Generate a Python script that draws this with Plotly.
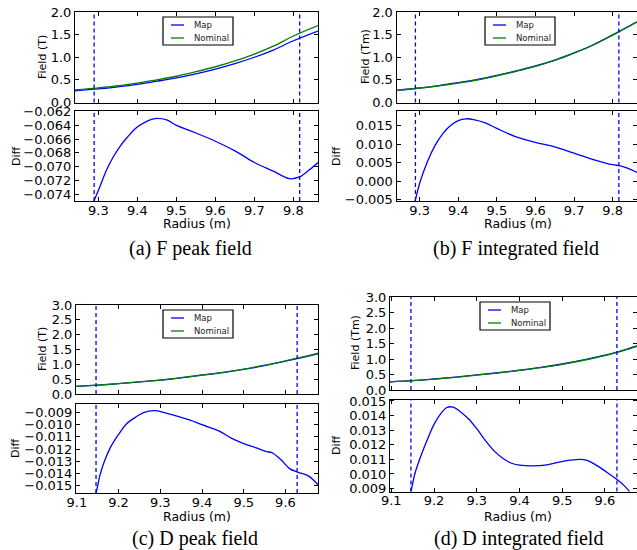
import plotly.graph_objects as go

# ---------------- data ----------------
# (a) F peak field
a_r = [9.24, 9.30, 9.35, 9.40, 9.45, 9.50, 9.55, 9.60, 9.65, 9.70, 9.75, 9.80, 9.863]
a_nominal = [0.28, 0.325, 0.37, 0.43, 0.50, 0.58, 0.68, 0.79, 0.92, 1.07, 1.25, 1.47, 1.70]
a_map = [0.26, 0.30, 0.345, 0.40, 0.47, 0.545, 0.635, 0.74, 0.86, 1.00, 1.165, 1.365, 1.58]
a_diff_r = [9.26, 9.275, 9.29, 9.304, 9.32, 9.338, 9.356, 9.373, 9.398, 9.424, 9.445, 9.475,
            9.50, 9.55, 9.60, 9.65, 9.70, 9.75, 9.79, 9.815, 9.84, 9.863]
a_diff = [-0.0790, -0.0768, -0.0748, -0.0729, -0.0706, -0.0686, -0.0670, -0.0658, -0.0643,
          -0.0634, -0.0630, -0.0632, -0.0640, -0.0651, -0.0663, -0.0677, -0.0694, -0.0707,
          -0.07175, -0.0715, -0.0705, -0.0694]

# (b) F integrated field
b_r = [9.24, 9.30, 9.35, 9.40, 9.45, 9.50, 9.55, 9.60, 9.65, 9.70, 9.75, 9.80, 9.863]
b_nominal = [0.27, 0.32, 0.37, 0.43, 0.50, 0.59, 0.69, 0.80, 0.93, 1.09, 1.27, 1.49, 1.78]
b_map = [0.266, 0.32, 0.375, 0.437, 0.508, 0.598, 0.698, 0.808, 0.938, 1.098, 1.277, 1.496, 1.784]
b_diff_r = [9.26, 9.275, 9.289, 9.30, 9.32, 9.34, 9.36, 9.38, 9.40, 9.42, 9.44, 9.47, 9.50,
            9.55, 9.60, 9.65, 9.70, 9.75, 9.80, 9.82, 9.84, 9.863]
b_diff = [-0.018, -0.0112, -0.0050, -0.0005, 0.0053, 0.0097, 0.0129, 0.0151, 0.0164, 0.0169,
          0.0167, 0.0158, 0.0143, 0.0120, 0.0105, 0.0093, 0.0076, 0.0059, 0.0045, 0.0042,
          0.0035, 0.0024]

# (c) D peak field
c_r = [9.09, 9.15, 9.20, 9.25, 9.30, 9.35, 9.40, 9.45, 9.50, 9.55, 9.60, 9.65, 9.68]
c_nominal = [0.25, 0.30, 0.35, 0.41, 0.47, 0.55, 0.64, 0.73, 0.84, 0.97, 1.12, 1.28, 1.38]
c_map = [0.247, 0.297, 0.347, 0.406, 0.466, 0.545, 0.634, 0.723, 0.830, 0.958, 1.106, 1.262, 1.360]
c_diff_r = [9.12, 9.146, 9.155, 9.165, 9.18, 9.20, 9.22, 9.24, 9.26, 9.285, 9.31, 9.34, 9.37,
            9.40, 9.44, 9.47, 9.50, 9.53, 9.555, 9.568, 9.59, 9.61, 9.63, 9.655, 9.68]
c_diff = [-0.0185, -0.0156, -0.0142, -0.0131, -0.0119, -0.0108, -0.0099, -0.0094, -0.0090,
          -0.00885, -0.0090, -0.0093, -0.0096, -0.0100, -0.0105, -0.0111, -0.01155, -0.0119,
          -0.0122, -0.0123, -0.0129, -0.0136, -0.0139, -0.0142, -0.0150]

# (d) D integrated field
d_r = [9.095, 9.15, 9.20, 9.25, 9.30, 9.35, 9.40, 9.45, 9.50, 9.55, 9.60, 9.628, 9.65, 9.675]
d_nominal = [0.26, 0.30, 0.35, 0.41, 0.48, 0.55, 0.63, 0.72, 0.83, 0.96, 1.11, 1.21, 1.30, 1.41]
d_map = [0.262, 0.303, 0.355, 0.416, 0.487, 0.556, 0.637, 0.728, 0.839, 0.971, 1.122, 1.222, 1.311, 1.421]
d_diff_r = [9.13, 9.146, 9.155, 9.17, 9.185, 9.20, 9.215, 9.23, 9.245, 9.26, 9.28, 9.30, 9.32,
            9.34, 9.36, 9.38, 9.40, 9.43, 9.46, 9.49, 9.52, 9.545, 9.56, 9.585, 9.61, 9.629,
            9.645, 9.66, 9.675]
d_diff = [0.0072, 0.0088, 0.0100, 0.0113, 0.0124, 0.0134, 0.0141, 0.01455, 0.01458, 0.0143,
          0.0138, 0.0131, 0.0123, 0.0116, 0.0111, 0.01075, 0.0106, 0.01055, 0.0106, 0.0108,
          0.01095, 0.0110, 0.01092, 0.0105, 0.0100, 0.0096, 0.0092, 0.0087, 0.0081]

# dashed marker positions
ab_marks = [9.289, 9.816]
cd_marks = [9.146, 9.628]

# tick labels
ab_xticks = [9.3, 9.4, 9.5, 9.6, 9.7, 9.8]
cd_xticks = [9.1, 9.2, 9.3, 9.4, 9.5, 9.6]
ab_field_ticks = [0.0, 0.5, 1.0, 1.5, 2.0]
cd_field_ticks = [0.0, 0.5, 1.0, 1.5, 2.0, 2.5, 3.0]
a_diff_ticks = [-0.074, -0.072, -0.070, -0.068, -0.066, -0.064, -0.062]
b_diff_ticks = [-0.005, 0.000, 0.005, 0.010, 0.015]
c_diff_ticks = [-0.015, -0.014, -0.013, -0.012, -0.011, -0.010, -0.009]
d_diff_ticks = [0.009, 0.010, 0.011, 0.012, 0.013, 0.014, 0.015]

field_labels = ["Field (T)", "Field (Tm)", "Field (T)", "Field (Tm)"]
captions = ["(a) F peak field", "(b) F integrated field", "(c) D peak field", "(d) D integrated field"]
series_names = ["Map", "Nominal"]

# ---------------- layout helpers ----------------
W, H = 637, 550
def fx(p): return p / W
def fy(p): return 1 - p / H

BLUE = "#0000ff"
GREEN = "#008000"
TICKFONT = dict(family="DejaVu Sans", size=13, color="black")

panels = [
    dict(r=a_r, nom=a_nominal, mp=a_map, dr=a_diff_r, dv=a_diff, marks=ab_marks,
         xr=[9.24, 9.863], xt=ab_xticks, ft=ab_field_ticks, fr=[0, 2.0],
         dt=a_diff_ticks, drange=[-0.075, -0.0619],
         xdom=[75, 318], top=[12, 102.5], bot=[111, 201],
         ftitle=(42, 57), dtitle=(16, 156), rtitle=(197, 224), cap=(190, 248),
         leg=(163, 17)),
    dict(r=b_r, nom=b_nominal, mp=b_map, dr=b_diff_r, dv=b_diff, marks=ab_marks,
         xr=[9.24, 9.863], xt=ab_xticks, ft=ab_field_ticks, fr=[0, 2.0],
         dt=b_diff_ticks, drange=[-0.0053, 0.0190],
         xdom=[396.5, 637], top=[12, 102.5], bot=[111, 201],
         ftitle=(365, 57), dtitle=(336, 156), rtitle=(518, 224), cap=(516, 248),
         leg=(485, 17)),
    dict(r=c_r, nom=c_nominal, mp=c_map, dr=c_diff_r, dv=c_diff, marks=cd_marks,
         xr=[9.098, 9.678], xt=cd_xticks, ft=cd_field_ticks, fr=[0, 3.0],
         dt=c_diff_ticks, drange=[-0.0156, -0.0083],
         xdom=[76, 318], top=[305, 394], bot=[404, 493],
         ftitle=(42, 349), dtitle=(15, 448), rtitle=(197, 516), cap=(195, 538),
         leg=(163, 310)),
    dict(r=d_r, nom=d_nominal, mp=d_map, dr=d_diff_r, dv=d_diff, marks=cd_marks,
         xr=[9.097, 9.675], xt=cd_xticks, ft=cd_field_ticks, fr=[0, 3.0],
         dt=d_diff_ticks, drange=[0.0088, 0.0151],
         xdom=[390, 637], top=[297, 390], bot=[399.5, 491.5],
         ftitle=(355, 343), dtitle=(336, 445), rtitle=(518, 516), cap=(518, 538),
         leg=(480, 302)),
]

fig = go.Figure()
layout = dict(width=W, height=H,
              margin=dict(l=0, r=0, t=0, b=0, pad=0, autoexpand=False),
              paper_bgcolor="white", plot_bgcolor="white", showlegend=False)
shapes = []
annotations = []

def axis_common():
    return dict(showline=True, linecolor="black", linewidth=1, mirror="allticks",
                ticks="inside", ticklen=4, tickcolor="black", tickwidth=1,
                showgrid=False, zeroline=False, tickfont=TICKFONT, automargin=False)

for i, p in enumerate(panels):
    top_idx = 2 * i + 1
    bot_idx = 2 * i + 2
    xd = [fx(p["xdom"][0]), min(1.0, fx(p["xdom"][1]))]

    # axes
    for idx, ydom, is_top in [(top_idx, p["top"], True), (bot_idx, p["bot"], False)]:
        xa = axis_common()
        xa.update(domain=xd, range=p["xr"], tickvals=p["xt"], ticktext=[f"{v:.1f}" for v in p["xt"]],
                  anchor=f"y{idx}" if idx > 1 else "y", showticklabels=not is_top,
                  ticklabelstandoff=-3)
        ya = axis_common()
        ya.update(domain=[fy(ydom[1]), fy(ydom[0])], anchor=f"x{idx}" if idx > 1 else "x")
        if is_top:
            ya.update(range=p["fr"], tickvals=p["ft"], ticktext=[f"{v:.1f}" for v in p["ft"]])
        else:
            ya.update(range=p["drange"], tickvals=p["dt"],
                      ticktext=[(f"{v:.3f}".replace("-", "\u2212")) for v in p["dt"]])
        key = "" if idx == 1 else str(idx)
        layout["xaxis" + key] = xa
        layout["yaxis" + key] = ya

    xref_t = "x" if top_idx == 1 else f"x{top_idx}"
    yref_t = "y" if top_idx == 1 else f"y{top_idx}"
    xref_b = f"x{bot_idx}"
    yref_b = f"y{bot_idx}"

    # field traces
    fig.add_trace(go.Scatter(x=p["r"], y=p["mp"], mode="lines", name=series_names[0],
                             line=dict(color=BLUE, width=1.3, shape="spline"),
                             xaxis=xref_t, yaxis=yref_t))
    fig.add_trace(go.Scatter(x=p["r"], y=p["nom"], mode="lines", name=series_names[1],
                             line=dict(color=GREEN, width=1.3, shape="spline"),
                             xaxis=xref_t, yaxis=yref_t))
    # diff trace
    fig.add_trace(go.Scatter(x=p["dr"], y=p["dv"], mode="lines", name="Diff",
                             line=dict(color=BLUE, width=1.3, shape="spline"),
                             xaxis=xref_b, yaxis=yref_b))

    # dashed markers
    for xr_, yr_ in [(xref_t, yref_t), (xref_b, yref_b)]:
        for m in p["marks"]:
            shapes.append(dict(type="line", xref=xr_, yref=yr_ + " domain", x0=m, x1=m, y0=0, y1=1,
                               line=dict(color=BLUE, width=1.3, dash="4px,3px")))

    # legend box (drawn in figure space)
    lx, ly = p["leg"]
    shapes.append(dict(type="rect", xref="paper", yref="paper",
                       x0=fx(lx), x1=fx(lx + 70), y0=fy(ly + 28), y1=fy(ly),
                       line=dict(color="black", width=1.2), fillcolor="white", layer="above"))
    for k, (nm, col) in enumerate(zip(series_names, [BLUE, GREEN])):
        yy = ly + 8 + k * 13
        shapes.append(dict(type="line", xref="paper", yref="paper",
                           x0=fx(lx + 8), x1=fx(lx + 21), y0=fy(yy), y1=fy(yy),
                           line=dict(color=col, width=1.3), layer="above"))
        annotations.append(dict(text=nm, x=fx(lx + 29), y=fy(yy), xref="paper", yref="paper",
                                showarrow=False, xanchor="left", yanchor="middle",
                                font=dict(family="DejaVu Sans", size=8.5, color="#222")))

    # titles
    vf = dict(family="DejaVu Sans", size=11, color="black")
    hf = dict(family="DejaVu Sans", size=12.5, color="black")
    annotations.append(dict(text=field_labels[i], x=fx(p["ftitle"][0]), y=fy(p["ftitle"][1]),
                            xref="paper", yref="paper", showarrow=False, textangle=-90,
                            font=vf, xanchor="center", yanchor="middle"))
    annotations.append(dict(text="Diff", x=fx(p["dtitle"][0]), y=fy(p["dtitle"][1]),
                            xref="paper", yref="paper", showarrow=False, textangle=-90,
                            font=vf, xanchor="center", yanchor="middle"))
    annotations.append(dict(text="Radius (m)", x=fx(p["rtitle"][0]), y=fy(p["rtitle"][1]),
                            xref="paper", yref="paper", showarrow=False,
                            font=hf, xanchor="center", yanchor="middle"))
    annotations.append(dict(text=captions[i], x=fx(p["cap"][0]), y=fy(p["cap"][1]),
                            xref="paper", yref="paper", showarrow=False,
                            font=dict(family="Liberation Serif", size=20, color="black"),
                            xanchor="center", yanchor="middle"))

layout["shapes"] = shapes
layout["annotations"] = annotations
fig.update_layout(**layout)
fig.write_html("out.html", config={"displayModeBar": False},
               post_script="document.body.style.margin='0px';document.body.style.padding='0px';")
